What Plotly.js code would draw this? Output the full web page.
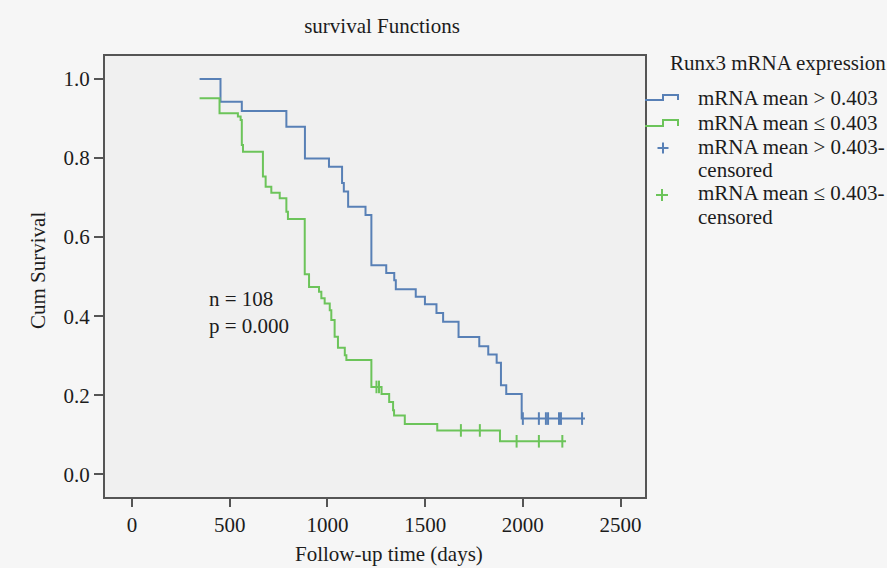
<!DOCTYPE html>
<html><head><meta charset="utf-8">
<script src="https://cdn.plot.ly/plotly-3.0.1.min.js"></script>
<style>html,body{margin:0;padding:0;background:#f6f6f6;} #chart{width:887px;height:568px;}</style>
</head><body><div id="chart"></div>
<script>
// Group: mRNA mean > 0.403 (event times in days, survival after each step)
const highTimes = [346, 453, 562, 790, 885, 1008, 1075, 1084, 1106, 1195, 1225, 1301, 1342, 1350, 1452, 1499, 1558, 1592, 1671, 1777, 1823, 1866, 1888, 1915, 1994, 2318];
const highSurv  = [1.0, 0.942, 0.919, 0.879, 0.799, 0.778, 0.737, 0.715, 0.677, 0.656, 0.529, 0.509, 0.491, 0.468, 0.449, 0.430, 0.408, 0.386, 0.347, 0.324, 0.303, 0.282, 0.225, 0.203, 0.141, 0.141];
const highCensored = [2000, 2082, 2118, 2129, 2185, 2195, 2303];

// Group: mRNA mean <= 0.403
const lowTimes = [346, 448, 542, 556, 562, 568, 670, 684, 713, 756, 790, 798, 884, 906, 957, 969, 986, 1012, 1020, 1037, 1054, 1089, 1097, 1225, 1277, 1316, 1336, 1341, 1396, 1562, 1883, 2221];
const lowSurv  = [0.951, 0.913, 0.905, 0.896, 0.833, 0.816, 0.753, 0.727, 0.712, 0.698, 0.664, 0.646, 0.506, 0.474, 0.462, 0.445, 0.432, 0.415, 0.390, 0.348, 0.320, 0.301, 0.289, 0.221, 0.203, 0.183, 0.162, 0.149, 0.127, 0.111, 0.0835, 0.0835];
const lowCensored = [1251, 1264, 1683, 1780, 1968, 2082, 2202];

const xTicks = [0, 500, 1000, 1500, 2000, 2500];
const yTicks = [0.0, 0.2, 0.4, 0.6, 0.8, 1.0];
const seriesNames = ['mRNA mean > 0.403', 'mRNA mean \u2264 0.403', 'mRNA mean > 0.403-', 'mRNA mean \u2264 0.403-'];
const legendTitle = 'Runx3 mRNA expression';
const statsText = ['n = 108', 'p = 0.000'];

const BLUE = '#5880b6', GREEN = '#6cc45a', AX = '#555555', TXT = '#1c1c1c';
const FONT = 'Liberation Serif, Times New Roman, serif';
const FS = 21;

function survAt(times, surv, t) {
  let s = surv[0];
  for (let i = 0; i < times.length; i++) if (times[i] <= t) s = surv[i];
  return s;
}

// layout helpers (pixel -> paper) for the hand-built legend
const M = {l: 105, r: 242, t: 56, b: 71};
const PW = 887 - M.l - M.r, PH = 568 - M.t - M.b;
const px = v => (v - M.l) / PW;
const py = v => (568 - M.b - v) / PH;

const traces = [
  {x: highTimes, y: highSurv, mode: 'lines', line: {shape: 'hv', color: BLUE, width: 2}, name: seriesNames[0], hoverinfo: 'x+y'},
  {x: lowTimes, y: lowSurv, mode: 'lines', line: {shape: 'hv', color: GREEN, width: 2}, name: seriesNames[1], hoverinfo: 'x+y'},
  {x: highCensored, y: highCensored.map(t => survAt(highTimes, highSurv, t)), mode: 'markers',
   marker: {symbol: 'line-ns-open', size: 9, color: BLUE, line: {color: BLUE, width: 2}}, name: seriesNames[2] + 'censored'},
  {x: lowCensored, y: lowCensored.map(t => survAt(lowTimes, lowSurv, t)), mode: 'markers',
   marker: {symbol: 'line-ns-open', size: 9, color: GREEN, line: {color: GREEN, width: 2}}, name: seriesNames[3] + 'censored'}
];

function stepPath(yLow, yHigh) {
  return 'M' + px(645) + ',' + py(yLow) + ' L' + px(663) + ',' + py(yLow) + ' L' + px(663) + ',' + py(yHigh) +
         ' L' + px(678) + ',' + py(yHigh) + ' L' + px(678) + ',' + py(yLow);
}
function plusShapes(cx, cy, h, color) {
  return [
    {type: 'line', xref: 'paper', yref: 'paper', x0: px(cx - h), x1: px(cx + h), y0: py(cy), y1: py(cy), line: {color: color, width: 2}},
    {type: 'line', xref: 'paper', yref: 'paper', x0: px(cx), x1: px(cx), y0: py(cy - h), y1: py(cy + h), line: {color: color, width: 2}}
  ];
}

const shapes = [
  {type: 'path', xref: 'paper', yref: 'paper', path: stepPath(100, 95), line: {color: BLUE, width: 2}},
  {type: 'path', xref: 'paper', yref: 'paper', path: stepPath(126, 120), line: {color: GREEN, width: 2}}
].concat(plusShapes(663, 148, 5.5, BLUE), plusShapes(662, 195, 6, GREEN));

function txt(text, x, y, extra) {
  return Object.assign({text: text, xref: 'paper', yref: 'paper', x: px(x), y: py(y), xanchor: 'left', yanchor: 'middle',
    showarrow: false, font: {family: FONT, size: FS, color: TXT}}, extra || {});
}

const annotations = [
  txt(legendTitle, 668, 63),
  txt(seriesNames[0], 696, 98),
  txt(seriesNames[1], 696, 123),
  txt(seriesNames[2], 696, 147),
  txt('censored', 696, 170),
  txt(seriesNames[3], 696, 193),
  txt('censored', 696, 217),
  {text: statsText.join('<br>'), xref: 'x', yref: 'y', x: 382, y: 0.408, xanchor: 'left', yanchor: 'middle', align: 'left',
   showarrow: false, font: {family: FONT, size: FS, color: TXT}},
  {text: 'Follow-up time (days)', xref: 'paper', yref: 'paper', x: px(388.5), y: py(554), xanchor: 'center', yanchor: 'middle',
   showarrow: false, font: {family: FONT, size: FS, color: TXT}},
  {text: 'Cum Survival', xref: 'paper', yref: 'paper', x: px(38), y: py(271), xanchor: 'center', yanchor: 'middle', textangle: -90,
   showarrow: false, font: {family: FONT, size: FS, color: TXT}}
];

const layout = {
  width: 887, height: 568,
  margin: M,
  paper_bgcolor: '#f6f6f6',
  plot_bgcolor: '#f0f0f0',
  showlegend: false,
  font: {family: FONT, size: FS, color: TXT},
  title: {text: 'survival Functions', font: {family: FONT, size: FS, color: TXT}, xref: 'paper', x: px(382), xanchor: 'center',
          yref: 'container', y: 1 - 26 / 568, yanchor: 'middle'},
  xaxis: {range: [-138, 2625], tickvals: xTicks, ticktext: xTicks.map(String), ticks: 'outside', ticklen: 8, tickwidth: 2, tickcolor: AX,
          showline: true, mirror: true, linecolor: AX, linewidth: 2, showgrid: false, zeroline: false,
          tickfont: {family: FONT, size: FS, color: TXT}},
  yaxis: {range: [-0.0574, 1.058], tickvals: yTicks, ticktext: yTicks.map(v => v.toFixed(1)), ticks: 'outside', ticklen: 9, tickwidth: 2, tickcolor: AX,
          showline: true, mirror: true, linecolor: AX, linewidth: 2, showgrid: false, zeroline: false,
          tickfont: {family: FONT, size: FS, color: TXT}},
  shapes: shapes,
  annotations: annotations
};

Plotly.newPlot('chart', traces, layout, {displayModeBar: false, staticPlot: true});
</script>
</body></html>
